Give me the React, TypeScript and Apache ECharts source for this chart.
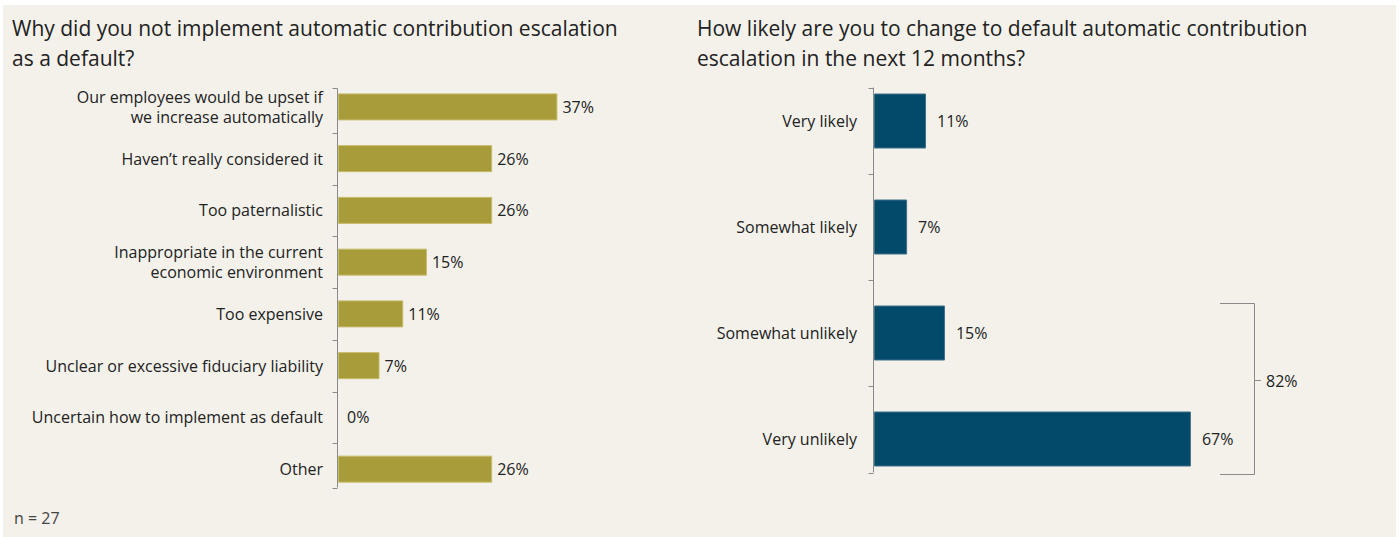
import React, { useEffect, useRef } from "react";
import * as echarts from "echarts";

const leftTitle = "Why did you not implement automatic contribution escalation\nas a default?";
const rightTitle = "How likely are you to change to default automatic contribution\nescalation in the next 12 months?";

const reasonCategories = [
  "Our employees would be upset if\nwe increase automatically",
  "Haven\u2019t really considered it",
  "Too paternalistic",
  "Inappropriate in the current\neconomic environment",
  "Too expensive",
  "Unclear or excessive fiduciary liability",
  "Uncertain how to implement as default",
  "Other",
];
const reasonValues = [37, 26, 26, 15, 11, 7, 0, 26];

const likelihoodCategories = ["Very likely", "Somewhat likely", "Somewhat unlikely", "Very unlikely"];
const likelihoodValues = [11, 7, 15, 67];
const bracketCategories = ["Somewhat unlikely", "Very unlikely"];

const sampleNote = "n = 27";

const FONT = "'Open Sans'";
const TEXT = "#222222";
const AXIS = "#8a8a8a";
const BG = "#f3f1ea";
const LABEL_SIZE = 16;

export default function App() {
  const ref = useRef<HTMLDivElement>(null);

  useEffect(() => {
    if (!ref.current) return;
    const chart = echarts.init(ref.current, null, { renderer: "svg" });
    const leftBarW = 27;
    const rightBarW = 55;

    const leftBorder = { color: "#a89b3a", borderColor: "#c6bb6a", borderWidth: 1 };

    chart.setOption({
      animation: false,
      backgroundColor: "#ffffff",
      textStyle: { fontFamily: FONT },
      title: [
        {
          text: leftTitle,
          left: 12,
          top: 13,
          padding: 0,
          textStyle: { fontFamily: FONT, fontSize: 21, fontWeight: "normal", color: TEXT, lineHeight: 30 },
        },
        {
          text: rightTitle,
          left: 697,
          top: 13,
          padding: 0,
          textStyle: { fontFamily: FONT, fontSize: 21, fontWeight: "normal", color: TEXT, lineHeight: 30 },
        },
      ],
      grid: [
        { left: 338, top: 81, width: 593, height: 414 },
        { left: 874, top: 68, width: 473, height: 424 },
      ],
      xAxis: [
        { gridIndex: 0, type: "value", min: 0, max: 100, show: false },
        { gridIndex: 1, type: "value", min: 0, max: 100, show: false },
      ],
      yAxis: [
        {
          gridIndex: 0,
          type: "category",
          inverse: true,
          data: reasonCategories,
          axisLine: { show: false },
          axisTick: { show: false },
          axisLabel: {
            margin: 15,
            fontFamily: FONT,
            fontSize: LABEL_SIZE,
            color: TEXT,
            lineHeight: 20,
            align: "right",
          },
        },
        {
          gridIndex: 1,
          type: "category",
          inverse: true,
          data: likelihoodCategories,
          axisLine: { show: false },
          axisTick: { show: false },
          axisLabel: { margin: 17, fontFamily: FONT, fontSize: LABEL_SIZE, color: TEXT },
        },
      ],
      series: [
        {
          type: "bar",
          xAxisIndex: 0,
          yAxisIndex: 0,
          data: reasonValues.map((v) => ({
            value: v,
            itemStyle: v === 0 ? { borderWidth: 0, color: "transparent" } : leftBorder,
            label: v === 0 ? { distance: 9 } : {},
          })),
          barWidth: leftBarW,
          itemStyle: leftBorder,
          label: {
            show: true,
            position: "right",
            distance: 5,
            formatter: "{c}%",
            fontFamily: FONT,
            fontSize: LABEL_SIZE,
            color: TEXT,
          },
        },
        {
          type: "bar",
          xAxisIndex: 1,
          yAxisIndex: 1,
          data: likelihoodValues,
          barWidth: rightBarW,
          itemStyle: { color: "#03496a", borderColor: "#3f7089", borderWidth: 1 },
          label: {
            show: true,
            position: "right",
            distance: 11,
            formatter: "{c}%",
            fontFamily: FONT,
            fontSize: LABEL_SIZE,
            color: TEXT,
          },
        },
      ],
    });

    const lineStyle = { stroke: AXIS, lineWidth: 1 };
    const elements: any[] = [
      {
        type: "rect",
        z: -100,
        shape: { x: 3, y: 5, width: 1393, height: 532 },
        style: { fill: BG },
        silent: true,
      },
      {
        type: "text",
        left: 14,
        top: 510,
        style: { text: sampleNote, fontFamily: FONT, fontSize: LABEL_SIZE, fill: "#444444" },
      },
    ];

    const axisDecor = (gridIdx: number, cats: string[], barW: number, pad: number) => {
      const centers = cats.map((c) => chart.convertToPixel({ yAxisIndex: gridIdx }, c) as number);
      const x = Math.round(chart.convertToPixel({ xAxisIndex: gridIdx }, 0) as number) - 0.5;
      const y1 = centers[0] - barW / 2 - pad;
      const y2 = centers[centers.length - 1] + barW / 2 + pad;
      elements.push({ type: "line", shape: { x1: x, y1, x2: x, y2 }, style: lineStyle, z: 10 });
      const tickYs = [y1, y2];
      for (let i = 0; i < centers.length - 1; i++) tickYs.push((centers[i] + centers[i + 1]) / 2);
      tickYs.forEach((ty) => {
        const yy = Math.round(ty) + 0.5;
        elements.push({ type: "line", shape: { x1: x - 5, y1: yy, x2: x, y2: yy }, style: lineStyle, z: 10 });
      });
      return centers;
    };

    axisDecor(0, reasonCategories, leftBarW, 5);
    axisDecor(1, likelihoodCategories, rightBarW, 6);

    // Bracket grouping the "unlikely" answers
    const bTop = (chart.convertToPixel({ yAxisIndex: 1 }, bracketCategories[0]) as number) - rightBarW / 2 - 3;
    const bBot = (chart.convertToPixel({ yAxisIndex: 1 }, bracketCategories[1]) as number) + rightBarW / 2 + 7;
    const bMid = Math.round((bTop + bBot) / 2 - 8) + 0.5;
    const bracketTotal = bracketCategories.reduce(
      (s, c) => s + likelihoodValues[likelihoodCategories.indexOf(c)],
      0
    );
    const bx = 1254.5;
    elements.push({
      type: "polyline",
      shape: {
        points: [
          [1220, Math.round(bTop) + 0.5],
          [bx, Math.round(bTop) + 0.5],
          [bx, Math.round(bBot) + 0.5],
          [1220, Math.round(bBot) + 0.5],
        ],
      },
      style: { stroke: AXIS, lineWidth: 1, fill: null },
    });
    elements.push({ type: "line", shape: { x1: bx, y1: bMid, x2: 1261, y2: bMid }, style: lineStyle });
    elements.push({
      type: "text",
      x: 1266,
      y: bMid,
      style: {
        text: bracketTotal + "%",
        fontFamily: FONT,
        fontSize: LABEL_SIZE,
        fill: TEXT,
        verticalAlign: "middle",
        align: "left",
      },
    });

    chart.setOption({ graphic: { elements } });

    return () => chart.dispose();
  }, []);

  return (
    <div
      ref={ref}
      style={{ position: "absolute", left: 0, top: 0, width: 1399, height: 537 }}
    />
  );
}
